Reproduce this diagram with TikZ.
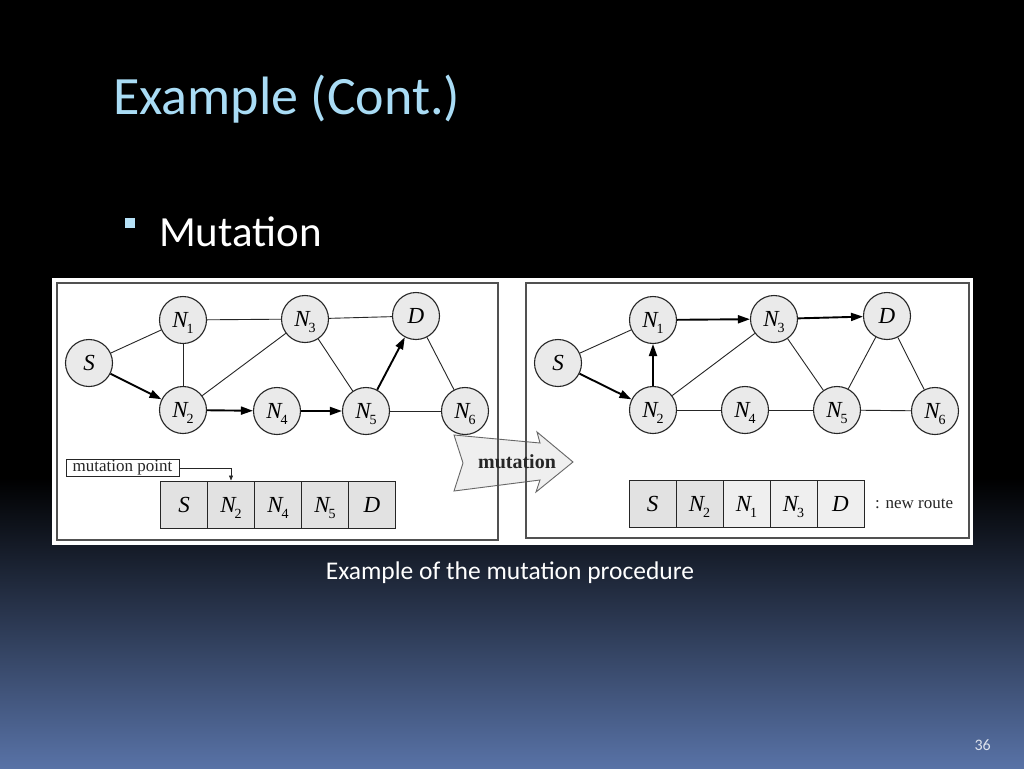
\documentclass[tikz,border=0pt]{standalone}
\usepackage{fontspec}
\setmainfont{Carlito}
\newfontfamily\tms{Liberation Serif}
\usetikzlibrary{arrows.meta}
\definecolor{titleblue}{HTML}{A9DCF5}
\definecolor{bgblue}{HTML}{5872A6}
\definecolor{nodegray}{HTML}{EAEAEA}
\definecolor{cellgray}{HTML}{E2E2E2}
\definecolor{celllight}{HTML}{EFEFEF}
\definecolor{inkgray}{HTML}{262626}
\newcommand\Nn[1]{\textit{N}\kern-2pt\smash{\raisebox{-6pt}{\fontsize{14}{14}\selectfont #1}}}
\begin{document}
\begin{tikzpicture}[x=1pt,y=-1pt,
  gnode/.style={circle,draw=inkgray,fill=nodegray,line width=1.1pt,minimum size=47pt,inner sep=0pt,
    text height=15pt,text depth=0pt,font=\tms\fontsize{23}{23}\selectfont},
  edge/.style={draw=inkgray,line width=0.9pt},
  route/.style={draw=black,line width=1.9pt,-{Triangle[length=12pt,width=8pt]}},
  cell/.style={draw=inkgray,fill=cellgray,line width=1pt,minimum width=47pt,minimum height=47pt,inner sep=0pt,
    text height=15pt,text depth=0pt,font=\tms\fontsize{23}{23}\selectfont},
  cellnew/.style={cell,fill=celllight},
  panel/.style={draw=inkgray!80,line width=1.4pt},
  small/.style={font=\tms\fontsize{17}{17}\selectfont,text=inkgray}
]
\useasboundingbox (0,0) rectangle (1024,768);
% background
\fill[black] (0,0) rectangle (1024,768);
\shade[top color=black,bottom color=bgblue] (0,478) rectangle (1024,768);
% title and bullet
\node[anchor=base west,inner sep=0pt,text=titleblue,font=\fontsize{54}{54}\selectfont] (title) at (113,114) {Example (Cont.)};
\fill[titleblue!85!white] (125,218) rectangle (135,228);
\node[anchor=base west,inner sep=0pt,text=white,font=\fontsize{43}{43}\selectfont] (bullet) at (159,246) {Mutation};
% white image area
\fill[white] (52,278) rectangle (973,545);
% mutation arrow (drawn under panel frames)
\filldraw[fill=celllight,draw=inkgray!70,line width=0.9pt]
  (454,435) -- (540,443) -- (537,432) -- (573,462) -- (536,492) -- (540,480) -- (454,491) -- (463,463) -- cycle;
% panel frames
\draw[panel] (57,283) rectangle (498,540);
\draw[panel] (526,283) rectangle (969,538);
\node[font=\tms\bfseries\fontsize{20}{20}\selectfont,text=inkgray] (mutlbl) at (517,462) {mutation};

% ---------- left graph ----------
\node[gnode] (lS) at (89,363) {\textit{S}};
\node[gnode] (lN1) at (183,320) {\Nn{1}};
\node[gnode] (lN3) at (305,319) {\Nn{3}};
\node[gnode] (lD) at (416,316) {\textit{D}};
\node[gnode] (lN2) at (183,410) {\Nn{2}};
\node[gnode] (lN4) at (277,411) {\Nn{4}};
\node[gnode] (lN5) at (366,411) {\Nn{5}};
\node[gnode] (lN6) at (465,411) {\Nn{6}};
\draw[edge] (lS) -- (lN1);
\draw[edge] (lN1) -- (lN3);
\draw[edge] (lN1) -- (lN2);
\draw[edge] (lN2) -- (lN3);
\draw[edge] (lN3) -- (lD);
\draw[edge] (lN3) -- (lN5);
\draw[edge] (lD) -- (lN6);
\draw[edge] (lN5) -- (lN6);
\draw[route] (lS) -- (lN2);
\draw[route] (lN2) -- (lN4);
\draw[route] (lN4) -- (lN5);
\draw[route] (lN5) -- (lD);
% left route
\node[cell] (lc1) at (184,504.5) {\textit{S}};
\node[cell] (lc2) at (231,504.5) {\Nn{2}};
\node[cell] (lc3) at (278,504.5) {\Nn{4}};
\node[cell] (lc4) at (325,504.5) {\Nn{5}};
\node[cell] (lc5) at (372,504.5) {\textit{D}};
\node[small,draw=inkgray,fill=white,line width=0.8pt,minimum width=113pt,minimum height=17pt,inner sep=1pt] (mp) at (122.5,468) {mutation point};
\draw[draw=inkgray,line width=0.6pt,-{Triangle[length=5pt,width=4pt]}] (mp.east) -| (lc2.north);

% ---------- right graph ----------
\node[gnode] (rS) at (558,363) {\textit{S}};
\node[gnode] (rN1) at (653,320) {\Nn{1}};
\node[gnode] (rN3) at (774,319) {\Nn{3}};
\node[gnode] (rD) at (887,316) {\textit{D}};
\node[gnode] (rN2) at (653,410) {\Nn{2}};
\node[gnode] (rN4) at (745,410) {\Nn{4}};
\node[gnode] (rN5) at (837,410) {\Nn{5}};
\node[gnode] (rN6) at (935,411) {\Nn{6}};
\draw[edge] (rS) -- (rN1);
\draw[edge] (rN2) -- (rN3);
\draw[edge] (rN3) -- (rN5);
\draw[edge] (rD) -- (rN5);
\draw[edge] (rD) -- (rN6);
\draw[edge] (rN2) -- (rN4);
\draw[edge] (rN4) -- (rN5);
\draw[edge] (rN5) -- (rN6);
\draw[route] (rS) -- (rN2);
\draw[route] (rN2) -- (rN1);
\draw[route] (rN1) -- (rN3);
\draw[route] (rN3) -- (rD);
% right route
\node[cell] (rc1) at (652.5,503.5) {\textit{S}};
\node[cell] (rc2) at (699.5,503.5) {\Nn{2}};
\node[cellnew] (rc3) at (746.5,503.5) {\Nn{1}};
\node[cellnew] (rc4) at (793.5,503.5) {\Nn{3}};
\node[cellnew] (rc5) at (840.5,503.5) {\textit{D}};
\node[small,anchor=west,inner sep=0pt] (newroute) at (875,504) {: new route};

% caption and page number
\node[anchor=base,inner sep=0pt,text=white,font=\fontsize{25.5}{25.5}\selectfont] (caption) at (510,579) {Example of the mutation procedure};
\node[anchor=base east,inner sep=0pt,text=white!80!bgblue,font=\fontsize{16}{16}\selectfont] (pagenum) at (991,750) {36};
\end{tikzpicture}
\end{document}
